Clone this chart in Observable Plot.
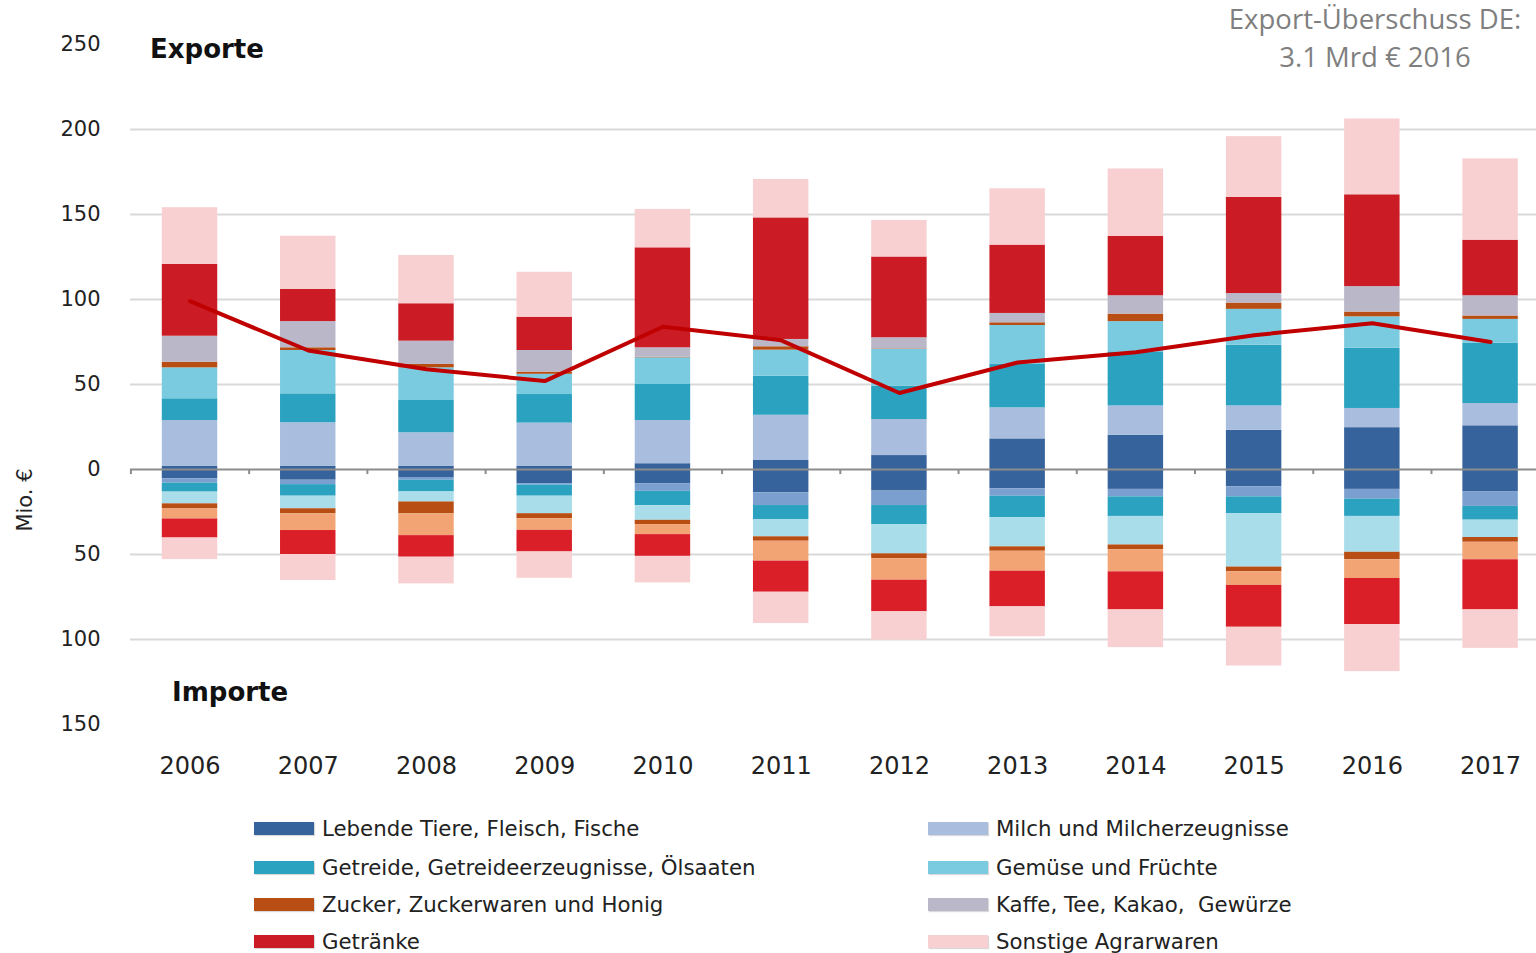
<!DOCTYPE html>
<html>
<head>
<meta charset="utf-8">
<script src="https://cdn.jsdelivr.net/npm/d3@7"></script>
<script src="https://cdn.jsdelivr.net/npm/@observablehq/plot@0.6"></script>
<style>
  body { margin: 0; background: #fff; }
  #wrap { position: relative; width: 1536px; height: 953px; overflow: hidden; font-family: "DejaVu Sans", sans-serif; }
  #chart { position: absolute; left: 0; top: 0; }
  .lbl { position: absolute; white-space: nowrap; }
  #legend { position: absolute; left: 0; top: 0; width: 1536px; height: 953px; pointer-events: none; }
  .item { position: absolute; display: flex; align-items: center; font-size: 21.3px; color: #222; white-space: pre; }
  .sw { width: 60px; height: 13px; margin-right: 8px; box-shadow: 1px 1px 1px rgba(0,0,0,0.15); }
</style>
</head>
<body>
<div id="wrap">
  <div id="chart"></div>
  <div class="lbl" style="left:150px;top:34px;font-size:26px;font-weight:bold;color:#111;">Exporte</div>
  <div class="lbl" style="left:172px;top:677px;font-size:26px;font-weight:bold;color:#111;">Importe</div>
  <div class="lbl" style="left:-10px;top:488px;font-size:21px;color:#222;transform:rotate(-90deg);transform-origin:center;width:70px;text-align:center;">Mio. €</div>
  <div class="lbl" style="left:1175px;top:0px;width:400px;text-align:center;font-family:'Open Sans',sans-serif;font-size:27.5px;line-height:38px;color:#7f7f7f;">Export-Überschuss DE:<br>3.1 Mrd € 2016</div>
  <div id="legend"></div>
</div>
<script>
const years = ["2006","2007","2008","2009","2010","2011","2012","2013","2014","2015","2016","2017"];
const categories = [
  "Lebende Tiere, Fleisch, Fische",
  "Milch und Milcherzeugnisse",
  "Getreide, Getreideerzeugnisse, Ölsaaten",
  "Gemüse und Früchte",
  "Zucker, Zuckerwaren und Honig",
  "Kaffe, Tee, Kakao,  Gewürze",
  "Getränke",
  "Sonstige Agrarwaren"
];
// Exports (Mio. €)
const expLebende  = [1.8, 1.8, 1.8, 2.0, 3.4, 5.3, 8.2, 18.0, 20.2, 23.1, 24.6, 25.7];
const expMilch    = [27.0, 25.7, 19.8, 25.3, 25.4, 26.6, 21.2, 18.3, 17.2, 14.3, 11.3, 13.1];
const expGetreide = [12.8, 17.0, 19.0, 16.8, 21.2, 23.0, 19.6, 25.5, 31.8, 35.7, 35.5, 35.4];
const expGemuese  = [18.2, 25.5, 19.2, 11.9, 15.7, 15.3, 21.6, 22.9, 17.8, 21.1, 18.4, 14.1];
const expZucker   = [3.3, 1.6, 2.0, 1.3, 0.3, 2.0, 0.3, 1.6, 4.4, 3.7, 2.8, 2.0];
const expKaffee   = [15.3, 15.4, 13.7, 12.7, 5.6, 4.3, 6.6, 5.5, 10.8, 5.6, 15.0, 11.9];
const expGetraenke= [42.2, 19.0, 22.0, 19.6, 58.8, 71.5, 47.5, 40.2, 35.0, 56.6, 54.0, 32.7];
const expSonstige = [33.4, 31.2, 28.4, 26.4, 22.6, 22.6, 21.5, 33.1, 39.6, 35.7, 44.6, 47.8];
// Imports (Mio. €)
const impLebende  = [5.5, 6.3, 4.7, 8.3, 8.5, 13.7, 12.7, 11.4, 11.7, 10.2, 11.7, 13.0];
const impMilch    = [2.5, 2.6, 1.6, 0.9, 4.3, 7.5, 8.5, 4.3, 4.4, 5.9, 5.7, 8.7];
const impGetreide = [5.3, 6.8, 6.9, 6.5, 8.5, 8.2, 11.2, 12.7, 11.5, 10.0, 10.2, 8.1];
const impGemuese  = [6.9, 7.4, 5.9, 10.3, 8.6, 10.2, 17.2, 17.1, 16.8, 31.3, 21.1, 10.2];
const impZucker   = [3.0, 3.0, 7.0, 3.0, 2.5, 2.6, 2.9, 2.6, 2.8, 2.8, 4.4, 2.8];
const impKaffee   = [5.9, 9.8, 12.8, 6.8, 5.9, 11.7, 12.6, 11.7, 13.0, 8.0, 11.0, 10.3];
const impGetraenke= [11.2, 14.1, 12.7, 12.7, 12.8, 18.3, 18.6, 21.0, 22.4, 24.6, 27.2, 29.5];
const impSonstige = [12.7, 15.3, 15.7, 15.5, 15.6, 18.4, 16.7, 17.6, 22.2, 22.8, 27.6, 22.6];
// Net export balance line
const netBalance = [99, 70, 59, 52, 84, 76, 45, 63, 69, 79, 86, 75];

const yTicks = [-150, -100, -50, 0, 50, 100, 150, 200, 250];
const gridValues = [-100, -50, 50, 100, 150, 200];

const expColors = ["#37639c", "#a9bede", "#2ba2bf", "#7bcbe0", "#b84e13", "#bab8c8", "#cb1c25", "#f8d0d2"];
const impColors = ["#37639c", "#7b9fcf", "#2ba2bf", "#a8dde9", "#b84e13", "#f2a474", "#da1f28", "#f8d0d2"];

const expSeries = [expLebende, expMilch, expGetreide, expGemuese, expZucker, expKaffee, expGetraenke, expSonstige];
const impSeries = [impLebende, impMilch, impGetreide, impGemuese, impZucker, impKaffee, impGetraenke, impSonstige];

const exportRows = [], importRows = [];
years.forEach((yr, i) => {
  categories.forEach((c, k) => {
    exportRows.push({year: yr, key: "E" + k, value: expSeries[k][i]});
    importRows.push({year: yr, key: "I" + k, value: -impSeries[k][i]});
  });
});
const netRows = years.map((yr, i) => ({year: yr, value: netBalance[i]}));

const colorDomain = categories.map((c, k) => "E" + k).concat(categories.map((c, k) => "I" + k));
const colorRange = expColors.concat(impColors);

const chart = Plot.plot({
  width: 1536,
  height: 790,
  marginLeft: 130,
  marginRight: 0,
  marginTop: 44,
  marginBottom: 66,
  style: {fontFamily: "DejaVu Sans, sans-serif", color: "#222", background: "transparent"},
  x: {domain: years, range: [130.4, 1549.2], round: false, paddingInner: 0.531, paddingOuter: 0.2655, axis: null},
  y: {domain: [-150, 250], axis: null},
  color: {domain: colorDomain, range: colorRange},
  marks: [
    Plot.ruleY(gridValues, {stroke: "#d9d9d9", strokeWidth: 2}),
    Plot.barY(exportRows, {x: "year", y: "value", fill: "key"}),
    Plot.barY(importRows, {x: "year", y: "value", fill: "key"}),
    Plot.ruleY([0], {stroke: "#8c8c8c", strokeWidth: 2}),
    Plot.ruleX(years, {x: d => d, y1: 0, y2: -3, dx: -59.1, stroke: "#8c8c8c", strokeWidth: 2}),
    Plot.line(netRows, {x: "year", y: "value", stroke: "#c00000", strokeWidth: 4}),
    Plot.axisX({tickSize: 0, tickPadding: 32, fontSize: 24, label: null}),
    Plot.axisY({ticks: yTicks, tickFormat: d => Math.abs(d), tickSize: 0, tickPadding: 30, fontSize: 21, label: null})
  ]
});
document.getElementById("chart").appendChild(chart);

// Legend
const legend = document.getElementById("legend");
const rowsY = [828, 867, 904, 941];
categories.forEach((c, k) => {
  const col = k % 2, row = Math.floor(k / 2);
  const el = document.createElement("div");
  el.className = "item";
  el.style.left = (col === 0 ? 254 : 928) + "px";
  el.style.top = (rowsY[row] - 13) + "px";
  el.style.height = "26px";
  const sw = document.createElement("div");
  sw.className = "sw";
  sw.style.background = expColors[k];
  const tx = document.createElement("span");
  tx.textContent = c;
  el.appendChild(sw);
  el.appendChild(tx);
  legend.appendChild(el);
});
</script>
</body>
</html>
